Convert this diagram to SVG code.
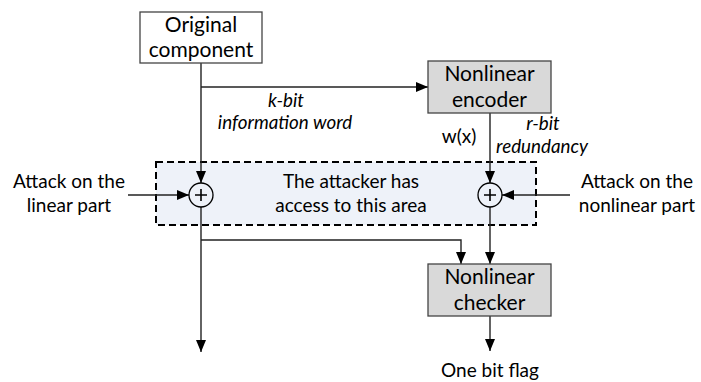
<svg xmlns="http://www.w3.org/2000/svg" width="701" height="382" viewBox="0 0 701 382">
<defs>
<marker id="ah" viewBox="0 0 12 10" refX="12" refY="5" markerWidth="12" markerHeight="10" markerUnits="userSpaceOnUse" orient="auto">
<path d="M0,0 L12,5 L0,10 Z" fill="#000"/>
</marker>
<style>
.t{font-family:Lato,"Liberation Sans",sans-serif;fill:#000;text-anchor:middle}
.b{font-size:21px}
.s{font-size:19px}
.i{font-size:18.8px;font-style:italic}
.ln{fill:none;stroke:#222;stroke-width:1.4}
.box{stroke:#444;stroke-width:1.3}
</style>
</defs>
<rect width="701" height="382" fill="#fff"/>
<g id="area">
<rect x="156" y="162" width="380" height="63" fill="#eef2f9" stroke="#000" stroke-width="2" stroke-dasharray="7,4"/>
<text class="t s" x="351" y="188">The attacker has</text>
<text class="t s" x="351" y="212">access to this area</text>
</g>
<g id="connectors">
<line class="ln" x1="201" y1="63" x2="201" y2="183" marker-end="url(#ah)"/>
<line class="ln" x1="201" y1="87" x2="428" y2="87" marker-end="url(#ah)"/>
<line class="ln" x1="490" y1="113" x2="490" y2="183" marker-end="url(#ah)"/>
<line class="ln" x1="128" y1="195" x2="189" y2="195" marker-end="url(#ah)"/>
<line class="ln" x1="570" y1="195" x2="502" y2="195" marker-end="url(#ah)"/>
<line class="ln" x1="201" y1="207" x2="201" y2="352" marker-end="url(#ah)"/>
<polyline class="ln" points="201,240 461,240 461,264" marker-end="url(#ah)"/>
<line class="ln" x1="490" y1="207" x2="490" y2="264" marker-end="url(#ah)"/>
<line class="ln" x1="490" y1="316" x2="490" y2="351" marker-end="url(#ah)"/>
</g>
<g id="xor-linear">
<circle cx="201" cy="195" r="12" fill="#eef2f9" stroke="#000" stroke-width="1.3"/>
<path d="M195,195 H207 M201,189 V201" stroke="#000" stroke-width="1.6"/>
</g>
<g id="xor-nonlinear">
<circle cx="490" cy="195" r="12" fill="#eef2f9" stroke="#000" stroke-width="1.3"/>
<path d="M484,195 H496 M490,189 V201" stroke="#000" stroke-width="1.6"/>
</g>
<g id="original">
<rect class="box" x="140" y="12" width="122" height="51" fill="#fff"/>
<text class="t b" x="201" y="32">Original</text>
<text class="t b" x="201" y="57">component</text>
</g>
<g id="encoder">
<rect class="box" x="428" y="61" width="123" height="52" fill="#d9d9d9"/>
<text class="t b" x="489.5" y="81">Nonlinear</text>
<text class="t b" x="489.5" y="107">encoder</text>
</g>
<g id="checker">
<rect class="box" x="428" y="264" width="123" height="52" fill="#d9d9d9"/>
<text class="t b" x="489.5" y="284">Nonlinear</text>
<text class="t b" x="489.5" y="310">checker</text>
</g>
<g id="labels">
<text class="t i" x="286" y="107">k-bit</text>
<text class="t i" x="285" y="129">information word</text>
<text class="t s" x="459" y="143">w(x)</text>
<text class="t i" x="543" y="130">r-bit</text>
<text class="t i" x="542" y="153">redundancy</text>
<text class="t s" x="69" y="188">Attack on the</text>
<text class="t s" x="69" y="212">linear part</text>
<text class="t s" x="637" y="188">Attack on the</text>
<text class="t s" x="637" y="212">nonlinear part</text>
<text class="t s" x="490" y="377">One bit flag</text>
</g>
</svg>
